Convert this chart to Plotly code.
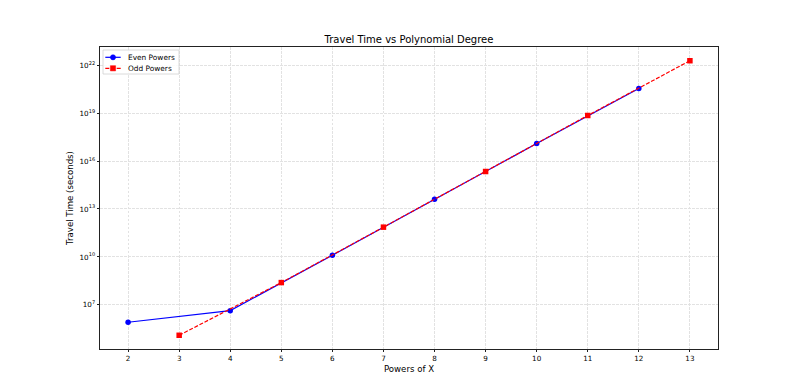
import plotly.graph_objects as go

even_x = [2, 4, 6, 8, 10, 12]
even_y = [8.3e5, 4.4e6, 1.28e10, 4.1e13, 1.24e17, 3.4e20]
odd_x = [3, 5, 7, 9, 11, 13]
odd_y = [1.27e5, 2.5e8, 7.3e11, 2.2e15, 7.0e18, 1.86e22]

x_ticks = list(range(2, 14))
y_tick_exps = [7, 10, 13, 16, 19, 22]
series_names = ["Even Powers", "Odd Powers"]

font = "DejaVu Sans"
EVEN_COLOR = "blue"
ODD_COLOR = "red"
ODD_DASH = "4px,1.7px"
GRID = "#e2e2e2"

fig = go.Figure()
fig.add_trace(go.Scatter(
    x=even_x, y=even_y, mode="lines+markers", name=series_names[0],
    line=dict(color=EVEN_COLOR, width=1.2),
    marker=dict(symbol="circle", size=5.5, color=EVEN_COLOR),
    showlegend=False,
))
fig.add_trace(go.Scatter(
    x=odd_x, y=odd_y, mode="lines+markers", name=series_names[1],
    line=dict(color=ODD_COLOR, width=1.2, dash=ODD_DASH),
    marker=dict(symbol="square", size=5.5, color=ODD_COLOR),
    showlegend=False,
))

# figure geometry (page offset of 8px body margin is compensated)
W, H = 783, 376
L, R, T, B = 92, 73, 39, 35
PW, PH = W - L - R, H - T - B


def px(xpix):
    return (xpix - (L + 8)) / PW


def py(ypix):
    return ((T + 8 + PH) - ypix) / PH


# compact, matplotlib-like legend drawn with shapes + annotations
shapes = [dict(type="rect", xref="paper", yref="paper",
               x0=px(103), x1=px(179), y0=py(74), y1=py(50),
               line=dict(color="#d0d0d0", width=0.8),
               fillcolor="rgba(255,255,255,0.85)", layer="above")]
annotations = []
rows = [(57.3, EVEN_COLOR, "circle", "solid", series_names[0]),
        (68.3, ODD_COLOR, "rect", ODD_DASH, series_names[1])]
for yrow, col, sym, dash, label in rows:
    shapes.append(dict(type="line", xref="paper", yref="paper",
                       x0=px(105.3), x1=px(120.7), y0=py(yrow), y1=py(yrow),
                       line=dict(color=col, width=1.2, dash=dash), layer="above"))
    shapes.append(dict(type=sym, xref="paper", yref="paper",
                       xsizemode="pixel", ysizemode="pixel",
                       xanchor=px(113), yanchor=py(yrow),
                       x0=-2.6, x1=2.6, y0=-2.6, y1=2.6,
                       line=dict(color=col, width=0.5), fillcolor=col,
                       layer="above"))
    annotations.append(dict(xref="paper", yref="paper", x=px(126.3), y=py(yrow),
                            xanchor="left", yanchor="middle", showarrow=False,
                            text=label, font=dict(size=7.4, family=font, color="black")))

fig.update_layout(
    width=W, height=H,
    margin=dict(l=L, r=R, t=T, b=B),
    paper_bgcolor="white", plot_bgcolor="white",
    font=dict(family=font, size=8, color="black"),
    title=dict(text="Travel Time vs Polynomial Degree", x=0.5, xanchor="center",
               xref="paper", y=1 - 31 / H, yanchor="middle",
               font=dict(size=10, family=font, color="black")),
    showlegend=False,
    shapes=shapes,
    annotations=annotations,
)
fig.update_xaxes(
    range=[1.45, 13.55], tickvals=x_ticks, ticktext=[str(v) for v in x_ticks],
    showline=True, linecolor="#222222", linewidth=0.9, mirror=True,
    ticks="outside", ticklen=2.5, tickwidth=0.7, tickcolor="#222222",
    showgrid=True, gridcolor=GRID, gridwidth=0.7, griddash="2.5px,1.5px",
    zeroline=False, tickfont=dict(size=7.2, family=font), automargin=False,
    title=dict(text="Powers of X", font=dict(size=8.6, family=font), standoff=3),
)
fig.update_yaxes(
    type="log", range=[4.246, 23.127],
    tickvals=[10.0 ** e for e in y_tick_exps],
    ticktext=[f"10<sup>{e}</sup>" for e in y_tick_exps],
    showline=True, linecolor="#222222", linewidth=0.9, mirror=True,
    ticks="outside", ticklen=2.5, tickwidth=0.7, tickcolor="#222222",
    showgrid=True, gridcolor=GRID, gridwidth=0.7, griddash="2.5px,1.5px",
    zeroline=False, tickfont=dict(size=7.2, family=font), automargin=False,
    title=dict(text="Travel Time (seconds)", font=dict(size=8.6, family=font), standoff=4),
)

fig.write_html("out.html")
